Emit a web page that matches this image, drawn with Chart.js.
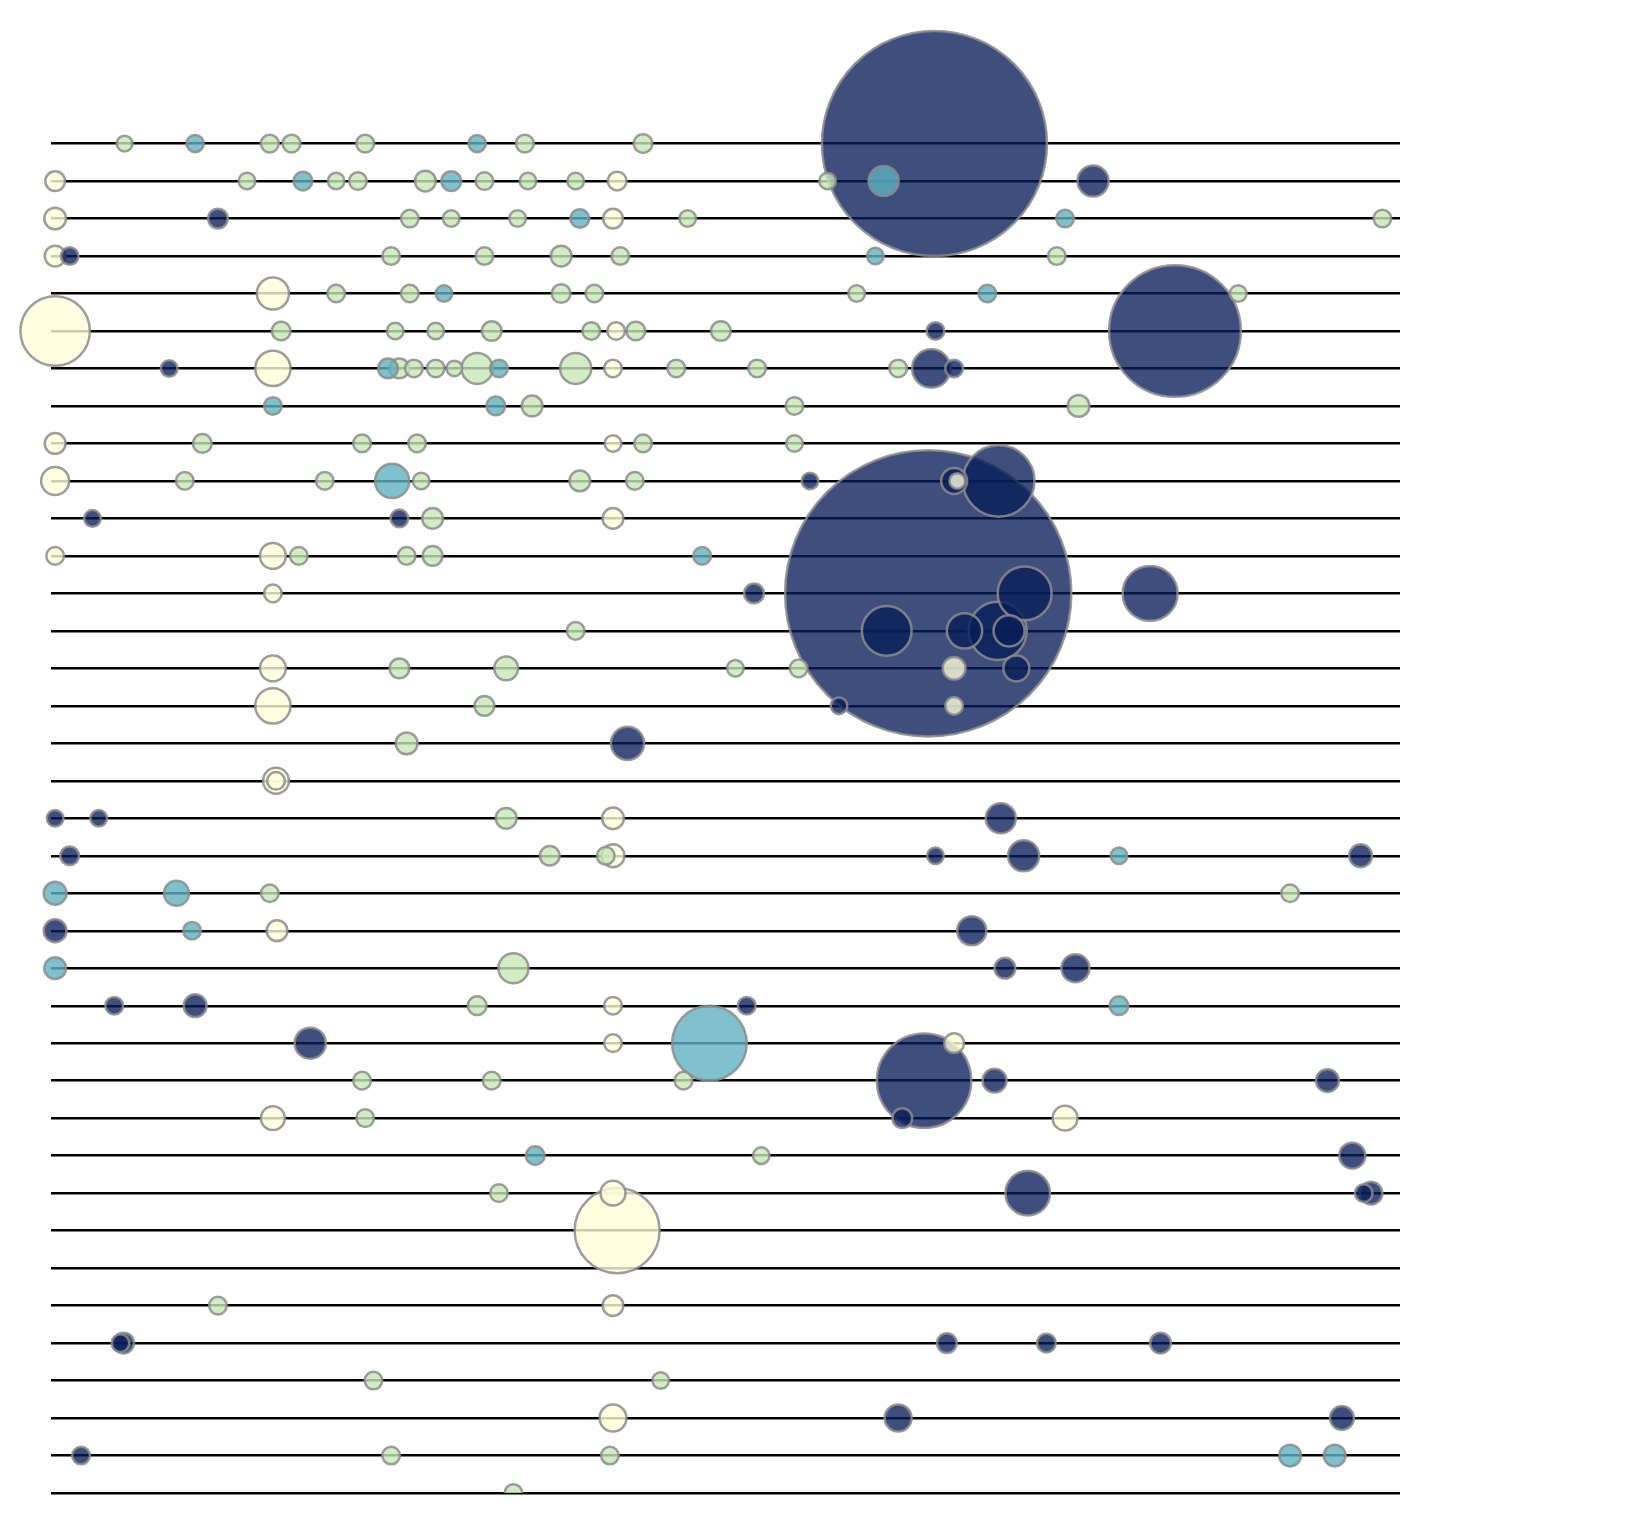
<!DOCTYPE html>
<html><head><meta charset="utf-8">
<script src="https://cdn.jsdelivr.net/npm/chart.js@4.4.0/dist/chart.umd.min.js"></script>
<style>html,body{margin:0;padding:0;background:#fff;overflow:hidden}#wrap{width:1626px;height:1534px}</style>
</head><body><div id="wrap"><canvas id="c" width="1626" height="1534"></canvas></div>
<script>
// row positions (categories on the y axis)
const rows = [0,1,2,3,4,5,6,7,8,9,10,11,12,13,14,15,16,17,18,19,20,21,22,23,24,25,26,27,28,29,30,31,32,33,34,35,36];

// each entry: [row, x, size]
const yellow = [
  [1,53,9.5],[1,595,9],[2,53,10.5],[2,591,9.5],[3,53,10],[4,263,15.5],
  [5,53,33.5],[5,594,8.5],[6,263,17],[6,591,8.5],[8,53,10],[8,591,8],
  [9,53,13.5],[9,923,7.5],[10,591,10],[11,53,8.5],[11,263,12.5],[12,263,8.5],
  [14,263,12.5],[14,920,11],[15,263,17],[15,920,8.5],[17,266,12.5],[17,266,8.5],
  [18,591,10.5],[19,591,11],[21,267,10],[23,591,8.5],[24,591,8.5],[24,920,9.5],
  [26,263,11.5],[26,1027,12],[28,591,12],[29,595,41],[31,591,10],[34,591,13]
];
const green = [
  [0,120,7.6],[0,260,8.6],[0,281,8.6],[0,352,8.6],[0,506,8.6],[0,620,9],
  [1,238,8],[1,324,8],[1,345,8.5],[1,410,10],[1,467,8.5],[1,509,8],[1,555,8],[1,798,8],
  [2,395,8.5],[2,435,8],[2,499,8],[2,663,8],[2,1333,8.5],
  [3,377,8.5],[3,467,8.5],[3,541,10],[3,598,8.5],[3,1019,8.5],
  [4,324,8.5],[4,395,8.5],[4,541,9],[4,573,8.5],[4,826,8],[4,1194,8],
  [5,271,9],[5,381,8],[5,420,8],[5,474,9.5],[5,570,8.5],[5,613,9],[5,695,9.5],
  [6,385,9.5],[6,399,8.5],[6,420,8.5],[6,438,7.5],[6,460,15],[6,555,15],[6,652,8.5],[6,730,8.5],[6,866,8.5],
  [7,513,10],[7,766,8.5],[7,1040,10.5],
  [8,195,9],[8,349,8.5],[8,402,8.5],[8,620,8.5],[8,766,8],
  [9,178,8.5],[9,313,8.5],[9,406,8],[9,559,10],[9,612,8.5],
  [10,417,10],[11,288,8.5],[11,392,8.5],[11,417,9.5],[13,555,8.5],
  [14,385,9.5],[14,488,11.5],[14,709,8],[14,770,8.5],[15,467,9.5],[16,392,10.5],
  [18,488,10],[19,530,9.5],[19,584,8.5],[20,260,8.5],[20,1244,8.5],[22,495,14.5],
  [23,460,9],[25,349,8.5],[25,474,8.5],[25,659,8.5],[26,352,8.5],[27,734,8],
  [28,481,8.5],[31,210,8.5],[33,360,8.5],[33,637,8],[35,377,8.5],[35,588,8.5],[36,495,8.5]
];
const teal = [
  [0,188,8.3],[0,460,8.3],[1,292,9],[1,435,9.5],[1,852,14.5],[2,559,9],[2,1027,8.5],
  [3,844,8],[4,428,8],[4,952,8.5],[6,374,9.5],[6,481,8.5],[7,263,8.5],[7,478,9],
  [9,378,16.5],[11,677,8.5],[19,1079,8],[20,53,11],[20,170,12],[21,185,8.5],
  [22,53,10.5],[23,1079,9],[24,684,36],[27,516,9],[35,1244,10.5],[35,1287,10.5]
];
const navy = [
  [0,901,108.5],[1,1054,15],[2,210,9.5],[3,67,8.5],[5,902,8.5],[5,1133,63.5],
  [6,163,8],[6,898,18.5],[6,920,8.5],[9,781,8],[9,920,12.5],[9,963,34.5],
  [10,89,8],[10,385,8.5],[12,727,9.5],[12,895,138],[12,988,26],[12,1109,26.5],
  [13,855,24],[13,930,17],[13,962,28],[13,973,15],[14,980,12.5],[15,809,8],
  [16,605,16],[18,53,8],[18,95,8],[18,965,14.5],[19,67,9],[19,902,8],[19,987,15],[19,1312,11],
  [21,53,11],[21,937,14],[22,969,10],[22,1037,13.5],[23,110,8.5],[23,188,11],[23,720,8.5],
  [24,299,15],[25,891,45.5],[25,959,11.5],[25,1280,11],[26,870,9.5],[27,1304,12.5],
  [28,991,21.5],[28,1315,8.5],[28,1322,11],[32,116,8.5],[32,119,10],[32,913,9.5],[32,1009,9],[32,1119,10],
  [34,866,13],[34,1294,11.5],[35,78,8.5]
];

const fills = {
  yellow: 'rgba(255,255,217,0.8)',
  green:  'rgba(199,233,180,0.8)',
  teal:   'rgba(95,177,191,0.8)',
  navy:   'rgba(8,29,88,0.78)'
};
const SIZE_TO_PX = 1.037;

const points = [];
[['yellow',yellow],['green',green],['teal',teal],['navy',navy]].forEach(([c,arr]) => {
  arr.forEach(([row,x,size]) => points.push({x:x, y:row, r:size*SIZE_TO_PX, c:c}));
});
points.sort((a,b) => b.r - a.r);

new Chart(document.getElementById('c'), {
  type: 'bubble',
  data: {
    datasets: [{
      data: points,
      backgroundColor: ctx => fills[ctx.raw.c],
      borderColor: 'rgba(140,140,140,0.85)',
      borderWidth: 2.5,
      clip: {left:false, top:false, right:false, bottom:0}
    }]
  },
  options: {
    responsive: false,
    animation: false,
    events: [],
    layout: {autoPadding: false, padding: {left:51, right:226, top:0, bottom:41}},
    plugins: {legend:{display:false}, tooltip:{enabled:false}},
    scales: {
      x: {type:'linear', min:49, max:1350, display:false},
      y: {
        type:'linear', min:-3.83, max:36, reverse:true,
        afterBuildTicks: s => { s.ticks = rows.map(v => ({value:v})); },
        afterFit: s => { s.width = 0; },
        ticks: {display:false},
        border: {display:false},
        grid: {color:'#000', lineWidth:2.4, drawTicks:false}
      }
    }
  }
});
</script>
</body></html>
